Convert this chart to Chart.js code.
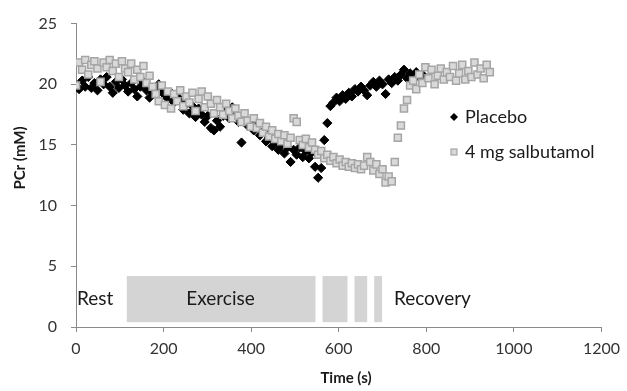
<!DOCTYPE html>
<html>
<head>
<meta charset="utf-8">
<script src="https://cdn.jsdelivr.net/npm/chart.js@4.4.0/dist/chart.umd.min.js"></script>
<style>
  html, body { margin: 0; padding: 0; background: #fff; }
  #wrap { width: 627px; height: 391px; }
</style>
</head>
<body>
<div id="wrap"><canvas id="chart" width="627" height="391"></canvas></div>
<script>
// PCr time course
const placeboTime = [
  0, 7, 14, 21, 28, 35, 42, 49, 56, 63, 70, 77, 84, 91, 98,
  105, 112, 119, 126, 133, 140, 147, 154, 161, 168, 175, 182, 189, 196,
  203, 210, 217, 224, 231, 238, 245, 252, 259, 266, 273, 280, 287, 294,
  301, 308, 315, 322, 329, 336, 343, 350, 357, 364, 371, 378, 385, 392, 399,
  406, 413, 420, 427, 434, 441, 448, 455, 462, 469, 476, 483, 490, 497,
  504, 511, 518, 525, 532, 539, 546, 553, 560, 567, 574, 581, 588, 595,
  602, 609, 616, 623, 630, 637, 644, 651, 658, 665, 672, 679, 686, 693,
  700, 707, 714, 721, 728, 735, 742, 749, 756, 763, 770, 777, 784, 791
];
const placeboPCr = [
  19.9, 19.6, 20.3, 19.8, 20.6, 19.7, 20.1, 19.5, 20.4, 20.0, 20.6, 19.8, 19.3, 20.2, 19.7,
  20.4, 19.9, 19.4, 20.1, 19.6, 19.0, 19.8, 20.2, 19.5, 18.9, 19.3, 19.7, 20.0, 19.4,
  19.1, 18.8, 19.3, 18.5, 19.0, 18.6, 17.9, 18.4, 17.6, 18.2, 17.3, 18.0, 17.5, 16.9,
  17.4, 16.4, 16.2, 17.0, 16.5, 17.4, 17.9, 17.2, 18.1, 17.5, 16.9, 15.2, 17.1, 16.6, 16.9,
  16.2, 16.6, 15.8, 16.1, 15.3, 15.6, 14.9, 15.2, 14.6, 15.0, 14.3, 14.8, 13.6, 14.6,
  14.2, 14.8, 14.0, 14.5, 13.9, 14.4, 13.2, 12.3, 13.1, 15.4, 16.8, 18.2, 18.5, 18.9,
  18.6, 19.1, 18.8, 19.3, 19.0, 19.6, 19.4, 19.8, 19.5, 19.1, 19.9, 20.2, 19.8, 20.3,
  20.0, 19.2, 20.4, 20.1, 20.6, 20.3, 20.8, 21.2, 20.5, 20.9, 20.4, 21.0, 20.6, 20.8
];
const salbTime = [
  0, 7, 14, 21, 28, 35, 42, 49, 56, 63, 70, 77, 84, 91, 98,
  105, 112, 119, 126, 133, 140, 147, 154, 161, 168, 175, 182, 189, 196,
  203, 210, 217, 224, 231, 238, 245, 252, 259, 266, 273, 280, 287, 294,
  301, 308, 315, 322, 329, 336, 343, 350, 357, 364, 371, 378, 385, 392, 399,
  406, 413, 420, 427, 434, 441, 448, 455, 462, 469, 476, 483, 490, 497,
  504, 511, 518, 525, 532, 539, 546, 553, 560, 567, 574, 581, 588, 595,
  602, 609, 616, 623, 630, 637, 644, 651, 658, 665, 672, 679, 686, 693,
  700, 707, 714, 721, 728, 735, 742, 749, 756, 763, 770, 777, 784, 791,
  798, 805, 812, 819, 826, 833, 840, 847, 854, 861, 868, 875, 882, 889,
  896, 903, 910, 917, 924, 931, 938, 945
];
const salbPCr = [
  19.9, 21.8, 21.2, 22.0, 20.8, 21.6, 21.9, 21.3, 20.2, 21.8, 21.4, 22.0, 21.1, 21.7, 20.6,
  21.9, 21.3, 21.0, 21.7, 20.4, 21.2, 20.6, 21.5, 20.1, 20.7, 19.8, 19.2, 18.6, 19.9,
  18.3, 19.4, 18.0, 19.2, 18.6, 19.5, 18.2, 19.0, 18.5, 19.3, 17.8, 18.8, 19.4, 18.1,
  19.0, 18.4, 17.6, 18.7, 18.1, 17.5, 18.4, 17.8, 17.2, 18.0, 17.4, 16.9, 17.6, 17.0, 16.5,
  17.2, 16.4, 16.8, 16.0, 16.5, 15.7, 16.2, 15.5, 15.9, 15.3, 15.8, 15.1, 15.6, 17.2,
  16.9, 15.4, 15.0, 15.5, 14.8, 15.2, 14.6, 14.2, 14.5, 13.9, 14.2, 13.7, 14.0, 13.5,
  13.8, 13.3, 13.6, 13.2, 13.5, 13.1, 13.4, 13.0, 13.3, 14.0, 13.6, 12.9, 13.4, 12.6,
  13.0, 11.9, 12.4, 12.0, 13.6, 15.6, 16.6, 18.0, 18.7, 19.9, 20.3, 19.6, 20.8, 20.1,
  21.4, 20.5, 21.2, 20.0, 20.7, 21.3, 20.4, 21.0, 20.6, 21.5, 20.3, 20.9, 21.6, 20.4,
  21.1, 20.6, 21.8, 20.8, 21.3, 20.5, 21.6, 21.0
];
const seriesNames = ['Placebo', '4 mg salbutamol'];
const xTicks = [0, 200, 400, 600, 800, 1000, 1200];
const yTicks = [0, 5, 10, 15, 20, 25];

// protocol phase bars (seconds) and their labels
const phaseStart = [116, 563, 636, 681];
const phaseEnd = [547, 620, 665, 699];
const phaseLow = 0.4;
const phaseHigh = 4.2;
const phaseText = ['Rest', 'Exercise', 'Recovery'];
const phaseTextAt = [2, 330, 726];
const phaseTextAlign = ['left', 'center', 'left'];

const FONT = 'Lato, "Open Sans", sans-serif';
const AXIS = '#8a8a8a';
const INK = '#1a1a1a';

const phasePlugin = {
  id: 'phases',
  beforeDatasetsDraw(chart) {
    const ctx = chart.ctx;
    const xs = chart.scales.x, ys = chart.scales.y;
    ctx.save();
    ctx.fillStyle = '#d4d4d4';
    for (let i = 0; i < phaseStart.length; i++) {
      const x0 = xs.getPixelForValue(phaseStart[i]);
      const x1 = xs.getPixelForValue(phaseEnd[i]);
      const y0 = ys.getPixelForValue(phaseHigh);
      const y1 = ys.getPixelForValue(phaseLow);
      ctx.fillRect(x0, y0, x1 - x0, y1 - y0);
    }
    ctx.fillStyle = INK;
    ctx.font = '19px ' + FONT;
    ctx.textBaseline = 'middle';
    const ty = ys.getPixelForValue(2.3);
    phaseText.forEach((t, i) => {
      ctx.textAlign = phaseTextAlign[i];
      ctx.fillText(t, xs.getPixelForValue(phaseTextAt[i]), ty);
    });
    ctx.restore();
  }
};

// legend and axis titles sit where the original figure put them
const labelsPlugin = {
  id: 'labels',
  afterDraw(chart) {
    const ctx = chart.ctx;
    ctx.save();
    ctx.font = '18px ' + FONT;
    ctx.textBaseline = 'middle';
    ctx.textAlign = 'left';
    let x = 454, y = 117;
    ctx.beginPath();
    ctx.moveTo(x - 4, y); ctx.lineTo(x, y - 4); ctx.lineTo(x + 4, y); ctx.lineTo(x, y + 4);
    ctx.closePath();
    ctx.fillStyle = '#000';
    ctx.fill();
    ctx.fillStyle = INK;
    ctx.fillText(seriesNames[0], 465, y);
    y = 152;
    ctx.fillStyle = '#d9d9d9';
    ctx.strokeStyle = '#a5a5a5';
    ctx.lineWidth = 1.2;
    ctx.fillRect(x - 3, y - 3, 6, 6);
    ctx.strokeRect(x - 3, y - 3, 6, 6);
    ctx.fillStyle = INK;
    ctx.fillText(seriesNames[1], 465, y);

    ctx.font = 'bold 15px ' + FONT;
    ctx.textAlign = 'center';
    ctx.fillText('Time (s)', 346, 378);
    ctx.translate(20, 158);
    ctx.rotate(-Math.PI / 2);
    ctx.fillText('PCr (mM)', 0, 0);
    ctx.restore();
  }
};

const toPoints = (xs, ys) => xs.map((t, i) => ({ x: t, y: ys[i] }));

new Chart(document.getElementById('chart'), {
  type: 'scatter',
  data: {
    // salbutamol first so it is painted over the placebo points
    datasets: [
      {
        label: seriesNames[1],
        data: toPoints(salbTime, salbPCr),
        pointStyle: 'rect',
        pointRadius: 5,
        backgroundColor: '#d9d9d9',
        borderColor: '#a5a5a5',
        borderWidth: 1.5
      },
      {
        label: seriesNames[0],
        data: toPoints(placeboTime, placeboPCr),
        pointStyle: 'rectRot',
        pointRadius: 4.6,
        backgroundColor: '#000',
        borderColor: '#000',
        borderWidth: 1
      }
    ]
  },
  options: {
    responsive: false,
    animation: false,
    events: [],
    layout: { padding: { top: 19, right: 24, left: 0, bottom: 0 } },
    plugins: { legend: { display: false }, tooltip: { enabled: false } },
    scales: {
      x: {
        type: 'linear',
        min: 0, max: 1200,
        afterBuildTicks(s) { s.ticks = xTicks.map(v => ({ value: v })); },
        afterFit(s) { s.height = 64; },
        border: { color: AXIS, width: 1 },
        grid: { drawOnChartArea: false, drawTicks: true, tickLength: 5, color: AXIS },
        ticks: { color: '#333', font: { family: FONT, size: 16 }, padding: 7, maxRotation: 0,
                 callback: v => String(v) }
      },
      y: {
        type: 'linear',
        min: 0, max: 25,
        afterBuildTicks(s) { s.ticks = yTicks.map(v => ({ value: v })); },
        afterFit(s) { s.width = 76; },
        border: { color: AXIS, width: 1 },
        grid: { drawOnChartArea: false, drawTicks: true, tickLength: 5, color: AXIS },
        ticks: { color: '#333', font: { family: FONT, size: 16 }, padding: 14 }
      }
    }
  },
  plugins: [phasePlugin, labelsPlugin]
});
</script>
</body>
</html>
